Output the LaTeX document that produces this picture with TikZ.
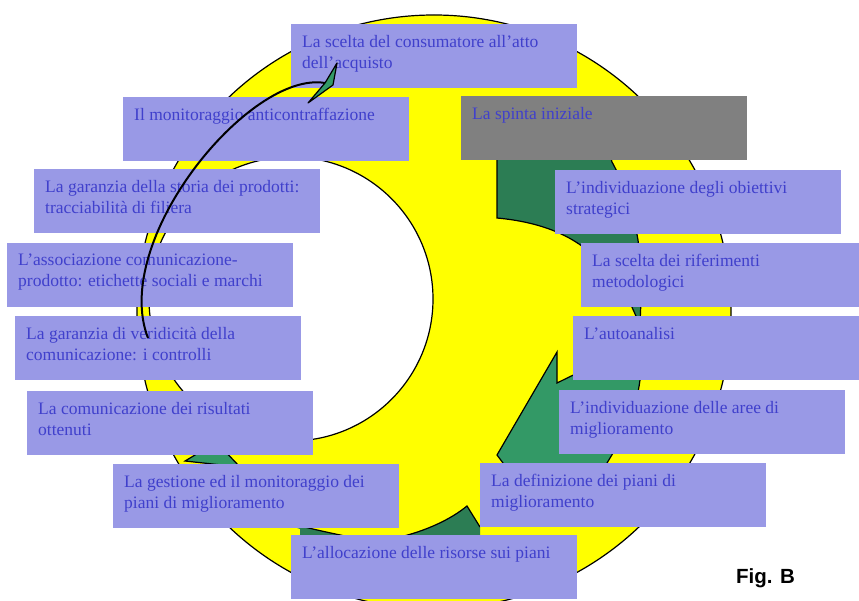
\documentclass[tikz,border=0pt]{standalone}
\usepackage{fontspec}
\setmainfont{Liberation Serif}
\setsansfont{Liberation Sans}
\usepackage{tikz}

\definecolor{giallo}{RGB}{255,255,0}
\definecolor{lilla}{RGB}{153,153,230}
\definecolor{testoblu}{RGB}{64,64,204}
\definecolor{grigio}{RGB}{128,128,128}
\definecolor{verdescuro}{RGB}{44,125,84}
\definecolor{verdemedio}{RGB}{51,153,102}

\tikzset{
    tappa/.style={fill=lilla, text=testoblu, anchor=north west,
        inner xsep=11pt, inner ysep=11pt, font=\fontsize{17.5}{21}\selectfont},
    bordo/.style={draw=black, line width=1.2pt}
}

\newcommand{\righe}[1]{\parbox[t][42pt][t]{264pt}{\raggedright #1}}

\begin{document}
\begin{tikzpicture}[x=1pt, y=-1pt]

    \useasboundingbox (0,0) rectangle (859,601);

    \clip (0,0) rectangle (859,601);


    \filldraw[fill=giallo, bordo] (434,312) circle [radius=297pt];

    \filldraw[fill=white, bordo] (291,299) circle [radius=142pt];


    \filldraw[fill=verdescuro, bordo] (497,120) -- (497,218)
        .. controls (540,222) and (575,235) .. (600,262)
        .. controls (615,278) and (625,292) .. (631,305)
        -- (640,325) -- (641,300)
        .. controls (641,270) and (640,255) .. (638,240)
        .. controls (632,205) and (622,180) .. (612,162) -- (600,120) -- cycle;

    \filldraw[fill=verdemedio, bordo] (557,352) -- (557,383) -- (600,362) -- (640,335) -- (640,380)
        .. controls (636,410) and (625,435) .. (613,453) -- (607,463)
        -- (590,515) -- (515,515) -- (503,463) -- (497,455) -- cycle;

    \filldraw[fill=verdemedio, bordo] (185,461) -- (210,446) -- (220,446) -- (240,467) -- cycle;

    \fill[verdescuro] (260,515) .. controls (290,524) and (320,531) .. (350,537)
        .. controls (370,540) and (390,539) .. (400,537)
        .. controls (425,531) and (450,520) .. (467,506) -- (480,527)
        -- (480,570) -- (300,570) -- (300,529) -- cycle;

    \draw[bordo] (260,515) .. controls (290,524) and (320,531) .. (350,537)
        .. controls (370,540) and (390,539) .. (400,537)
        .. controls (425,531) and (450,520) .. (467,506) -- (480,527);


    \node[tappa] (consumatore) at (291,24) {\righe{La scelta del consumatore all’atto\\dell’acquisto}};

    \node[tappa] (anticontraffazione) at (123,97) {\righe{Il monitoraggio anticontraffazione}};

    \node[tappa, fill=grigio] (spinta) at (461,96) {\righe{La spinta iniziale}};

    \node[tappa] (tracciabilita) at (34,169) {\righe{La garanzia della storia dei prodotti:\\tracciabilità di filiera}};

    \node[tappa] (etichette) at (7,243) {\righe{L’associazione comunicazione-\\prodotto: etichette sociali e marchi}};

    \node[tappa] (controlli) at (15,316) {\righe{La garanzia di veridicità della\\comunicazione: i controlli}};

    \node[tappa] (risultati) at (27,391) {\righe{La comunicazione dei risultati\\ottenuti}};

    \node[tappa] (gestione) at (113,464) {\righe{La gestione ed il monitoraggio dei\\piani di miglioramento}};

    \node[tappa] (allocazione) at (291,535) {\righe{L’allocazione delle risorse sui piani}};

    \node[tappa] (definizione) at (480,463) {\righe{La definizione dei piani di\\miglioramento}};

    \node[tappa] (aree) at (559,390) {\righe{L’individuazione delle aree di\\miglioramento}};

    \node[tappa] (autoanalisi) at (573,316) {\righe{L’autoanalisi}};

    \node[tappa] (riferimenti) at (581,243) {\righe{La scelta dei riferimenti\\metodologici}};

    \node[tappa] (obiettivi) at (555,170) {\righe{L’individuazione degli obiettivi\\strategici}};


    \coordinate (coda) at (148,338);

    \coordinate (punta) at (325,83);

    \draw[line width=2pt] (coda) .. controls (110,240) and (250,70) .. (punta);

    \filldraw[fill=verdemedio, draw=black, line width=1.2pt, line join=round]
        (punta) -- (337,63) -- (333,85) -- (308,103) -- cycle;


    \node[anchor=base west, inner sep=0pt, font=\sffamily\bfseries\fontsize{20.5}{24}\selectfont] (figura) at (736,583) {Fig. B};

\end{tikzpicture}
\end{document}
